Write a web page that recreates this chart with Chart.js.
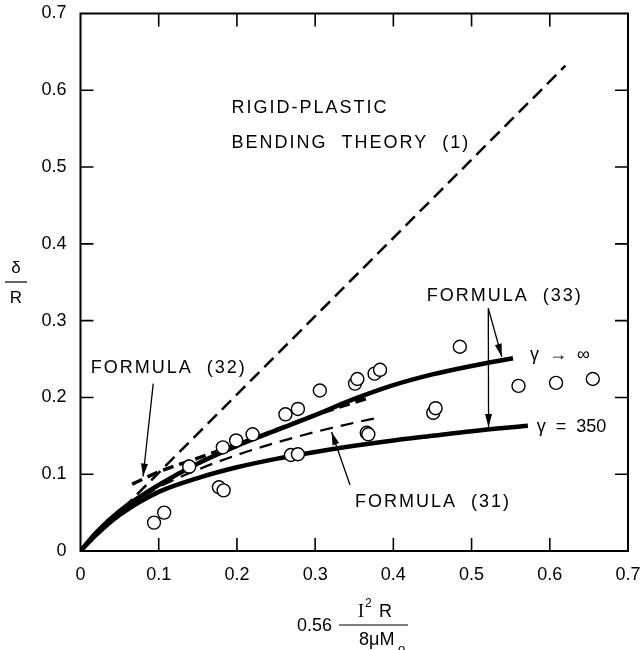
<!DOCTYPE html>
<html><head><meta charset="utf-8">
<script src="https://cdn.jsdelivr.net/npm/chart.js@4/dist/chart.umd.min.js"></script>
<style>html,body{margin:0;padding:0;background:#fff;}#wrap{width:643px;height:650px;}</style>
</head><body><div id="wrap"><canvas id="c" width="643" height="650"></canvas></div>
<script>
// ---- data ----
const tickValues = [0, 0.1, 0.2, 0.3, 0.4, 0.5, 0.6, 0.7];
const xTickLabels = ['0', '0.1', '0.2', '0.3', '0.4', '0.5', '0.6', '0.7'];
const yTickLabels = ['0', '0.1', '0.2', '0.3', '0.4', '0.5', '0.6', '0.7'];

const testX = [0.094, 0.107, 0.139, 0.177, 0.183, 0.182, 0.199, 0.220, 0.262, 0.278, 0.269, 0.278, 0.306, 0.351, 0.354, 0.376, 0.383, 0.366, 0.368, 0.451, 0.454, 0.485, 0.560, 0.608, 0.655];
const testY = [0.037, 0.050, 0.110, 0.083, 0.079, 0.135, 0.144, 0.152, 0.178, 0.185, 0.125, 0.126, 0.209, 0.218, 0.224, 0.231, 0.236, 0.154, 0.152, 0.180, 0.186, 0.266, 0.215, 0.219, 0.224];

const rigidX = [0, 0.62];
const rigidY = [0, 0.632];

const gammaInfX = [0, 0.02, 0.05, 0.1, 0.15, 0.2, 0.25, 0.3, 0.35, 0.4, 0.45, 0.5, 0.553];
const gammaInfY = [0, 0.024, 0.052, 0.086, 0.114, 0.137, 0.157, 0.177, 0.198, 0.216, 0.230, 0.241, 0.251];

const gamma350X = [0, 0.02, 0.05, 0.1, 0.15, 0.2, 0.25, 0.3, 0.35, 0.4, 0.45, 0.5, 0.572];
const gamma350Y = [0, 0.021, 0.047, 0.077, 0.095, 0.109, 0.120, 0.129, 0.137, 0.144, 0.150, 0.156, 0.163];

const formula31X = [0, 0.02, 0.05, 0.1, 0.15, 0.2, 0.25, 0.3, 0.35, 0.378];
const formula31Y = [0, 0.023, 0.050, 0.083, 0.106, 0.125, 0.141, 0.155, 0.167, 0.173];

const formula32X = [0.066, 0.1, 0.15, 0.2, 0.25, 0.3, 0.37];
const formula32Y = [0.087, 0.103, 0.121, 0.139, 0.158, 0.177, 0.200];

const pts = (xs, ys) => xs.map((x, i) => ({x: x, y: ys[i]}));

// ---- annotation plugin ----
const FONT = '"Liberation Sans", Arial, Helvetica, sans-serif';
function arrow(ctx, x1, y1, x2, y2) {
  ctx.save();
  ctx.strokeStyle = '#000'; ctx.fillStyle = '#000'; ctx.lineWidth = 1.3;
  ctx.beginPath(); ctx.moveTo(x1, y1); ctx.lineTo(x2, y2); ctx.stroke();
  const a = Math.atan2(y2 - y1, x2 - x1), L = 13, W = 3.5;
  ctx.beginPath();
  ctx.moveTo(x2, y2);
  ctx.lineTo(x2 - L * Math.cos(a) + W * Math.sin(a), y2 - L * Math.sin(a) - W * Math.cos(a));
  ctx.lineTo(x2 - L * Math.cos(a) - W * Math.sin(a), y2 - L * Math.sin(a) + W * Math.cos(a));
  ctx.closePath(); ctx.fill();
  ctx.restore();
}
const deco = {
  id: 'deco',
  afterDraw(chart) {
    const ctx = chart.ctx, xs = chart.scales.x, ys = chart.scales.y, a = chart.chartArea;
    const X = v => xs.getPixelForValue(v), Y = v => ys.getPixelForValue(v);
    ctx.save();
    // frame
    ctx.strokeStyle = '#000'; ctx.lineWidth = 2;
    ctx.strokeRect(a.left, a.top, a.right - a.left, a.bottom - a.top);
    // inward ticks
    ctx.lineWidth = 1.6;
    const T = 13;
    tickValues.slice(1, -1).forEach(v => {
      const px = X(v), py = Y(v);
      ctx.beginPath();
      ctx.moveTo(px, a.bottom); ctx.lineTo(px, a.bottom - T);
      ctx.moveTo(px, a.top); ctx.lineTo(px, a.top + T);
      ctx.moveTo(a.left, py); ctx.lineTo(a.left + T, py);
      ctx.moveTo(a.right, py); ctx.lineTo(a.right - T, py);
      ctx.stroke();
    });
    // text labels
    ctx.fillStyle = '#000';
    ctx.textBaseline = 'middle'; ctx.textAlign = 'left';
    ctx.font = '18px ' + FONT;
    ctx.letterSpacing = '2px';
    ctx.fillText('RIGID-PLASTIC', X(0.193), Y(0.577));
    ctx.fillText('BENDING  THEORY  (1)', X(0.193), Y(0.531));
    ctx.fillText('FORMULA  (32)', X(0.013), Y(0.238));
    ctx.fillText('FORMULA  (31)', X(0.351), Y(0.064));
    ctx.fillText('FORMULA  (33)', X(0.4427), Y(0.3324));
    ctx.letterSpacing = '0px';
    ctx.font = '18px ' + FONT;
    ctx.fillText('\u03B3  \u2192  \u221E', X(0.5747), Y(0.255));
    ctx.fillText('\u03B3  =  350', X(0.5833), Y(0.162));
    // arrows
    arrow(ctx, X(0.093), Y(0.218), X(0.080), Y(0.097));
    arrow(ctx, X(0.3446), Y(0.086), X(0.321), Y(0.155));
    arrow(ctx, X(0.5214), Y(0.316), X(0.5217), Y(0.1615));
    arrow(ctx, X(0.5214), Y(0.316), X(0.5386), Y(0.253));
    // y-axis title: delta over R
    ctx.font = '17px ' + FONT; ctx.textAlign = 'center';
    ctx.fillText('\u03B4', 16, 268);
    ctx.fillText('R', 16, 298);
    ctx.lineWidth = 1.2;
    ctx.beginPath(); ctx.moveTo(5, 282); ctx.lineTo(27, 282); ctx.stroke();
    // x-axis title: 0.56 * I^2 R / (8 mu M_o)
    ctx.textAlign = 'right'; ctx.font = '18px ' + FONT;
    ctx.fillText('0.56', 332, 626);
    ctx.beginPath(); ctx.moveTo(339, 625); ctx.lineTo(408, 625); ctx.stroke();
    ctx.textAlign = 'left';
    ctx.font = '18px "Liberation Serif", serif';
    ctx.fillText('I', 358, 612);
    ctx.font = '12px ' + FONT;
    ctx.fillText('2', 365, 604);
    ctx.font = '18px ' + FONT;
    ctx.fillText('R', 379, 612);
    ctx.fillText('8\u03BCM', 359, 640);
    ctx.font = '13px ' + FONT;
    ctx.fillText('o', 398, 649);
    ctx.restore();
  }
};

const lineDs = (label, data, w, dash) => ({
  label, data, showLine: true, borderColor: '#000', borderWidth: w, borderDash: dash,
  pointRadius: 0, pointHoverRadius: 0, fill: false, cubicInterpolationMode: 'monotone',
  borderCapStyle: 'butt'
});

const noPad = s => { s.paddingTop = 0; s.paddingBottom = 0; s.paddingLeft = 0; s.paddingRight = 0; };

new Chart(document.getElementById('c'), {
  type: 'scatter',
  data: {
    datasets: [
      { label: 'Tests', data: pts(testX, testY), pointRadius: 6.5, pointBorderWidth: 1.4,
        pointBackgroundColor: '#fff', pointBorderColor: '#000', showLine: false, order: 0 },
      Object.assign(lineDs('Formula (32)', pts(formula32X, formula32Y), 3.5, [11, 6]), {order: 1}),
      Object.assign(lineDs('gamma inf', pts(gammaInfX, gammaInfY), 4.5, []), {order: 2}),
      Object.assign(lineDs('gamma 350', pts(gamma350X, gamma350Y), 4.5, []), {order: 3}),
      Object.assign(lineDs('Formula (31)', pts(formula31X, formula31Y), 2.2, [13, 8]), {order: 4}),
      Object.assign(lineDs('Rigid-plastic (1)', pts(rigidX, rigidY), 2.5, [13, 7]), {order: 5})
    ]
  },
  options: {
    responsive: false, animation: false, devicePixelRatio: 1,
    layout: { padding: { left: 0, right: 15, top: 13.5, bottom: 0 } },
    plugins: { legend: { display: false }, tooltip: { enabled: false } },
    scales: {
      x: {
        type: 'linear', min: 0, max: 0.7,
        afterBuildTicks: s => { s.ticks = tickValues.map(v => ({value: v})); },
        afterFit: s => { s.height = 99; noPad(s); },
        grid: { display: false, drawTicks: false }, border: { display: false },
        ticks: { padding: 13, color: '#000', font: { size: 18, family: FONT },
          maxRotation: 0, autoSkip: false,
          callback: (v, i) => xTickLabels[i] }
      },
      y: {
        type: 'linear', min: 0, max: 0.7,
        afterBuildTicks: s => { s.ticks = tickValues.map(v => ({value: v})); },
        afterFit: s => { s.width = 80.5; noPad(s); },
        grid: { display: false, drawTicks: false }, border: { display: false },
        ticks: { padding: 14, color: '#000', font: { size: 18, family: FONT },
          autoSkip: false, callback: (v, i) => yTickLabels[i] }
      }
    }
  },
  plugins: [deco]
});
</script></body></html>
